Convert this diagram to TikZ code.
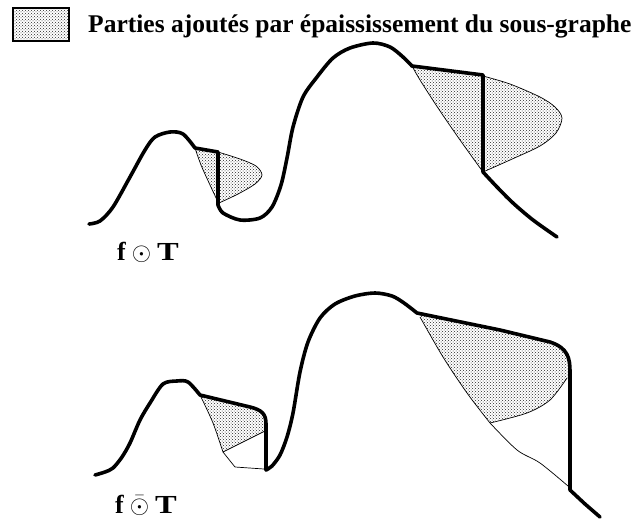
\documentclass[tikz,border=0pt]{standalone}
\usepackage{graphicx}
\usepackage{fontspec}
\setmainfont{Liberation Serif}
\usetikzlibrary{patterns}
\tikzset{
  thickc/.style={line width=3.6pt, line join=round, line cap=round},
  thinc/.style={line width=0.7pt, line join=round},
  shade/.style={pattern=crosshatch dots, pattern color=black!85},
  lbl/.style={inner sep=0pt, anchor=base west, font=\bfseries\fontsize{26}{26}\selectfont},
}
\newcommand{\mysym}[1]{{\fontsize{24}{24}\selectfont$#1$}}
\begin{document}
\begin{tikzpicture}[x=1pt,y=-1pt]
\useasboundingbox (0,0) rectangle (636,519);
% legend
\fill[shade] (13,8) rectangle (69,41);
\draw[line width=1.2pt] (13,8) rectangle (69,41);
\node[inner sep=0pt, anchor=base west, font=\bfseries\fontsize{25.5}{25.5}\selectfont] (title) at (88,33) {Parties ajoutés par épaississement du sous-graphe};

% ===== top figure =====
% small shaded part
\fill[shade] (195,148) -- (218,152) -- plot[smooth] coordinates {(218,152) (240,159) (256,166) (262,175) (255,184) (238,194) (219,203)}
  -- (217,200) -- plot[smooth] coordinates {(217,200) (210,185) (201,165) (195,148)} -- cycle;
\draw[thinc] plot[smooth] coordinates {(218,152) (240,159) (256,166) (262,175) (255,184) (238,194) (219,203)};
\draw[thinc] plot[smooth] coordinates {(217,200) (210,185) (201,165) (195,148)};
% large shaded part
\fill[shade] (412,66) -- (483,75) -- plot[smooth] coordinates {(483,76) (510,84) (540,97) (555,107) (562,118) (556,133) (540,146) (510,160) (483,172)}
  -- plot[smooth] coordinates {(483,172) (460,140) (438,108) (420,80) (412,66)} -- cycle;
\draw[thinc] plot[smooth] coordinates {(483,76) (510,84) (540,97) (555,107) (562,118) (556,133) (540,146) (510,160) (483,172)};
\draw[thinc] plot[smooth] coordinates {(483,172) (460,140) (438,108) (420,80) (412,66)};
% thick graph
\draw[thickc] plot[smooth] coordinates {(89,224) (100,221) (113,207) (130,177) (145,150) (155,137) (170,132) (183,134) (195,148)}
  -- (218,152) -- (218,205)
  -- plot[smooth] coordinates {(218,205) (223,213) (240,220) (260,218) (272,207) (281,185) (287,158) (293,127) (303,97) (317,77) (333,58) (350,48) (373,43) (390,47) (403,57) (412,66)}
  -- (483,75) -- (483,172)
  -- plot[smooth] coordinates {(483,172) (497,187) (513,203) (533,220) (557,237)};
\node[lbl] (l1) at (117,260) {f\hspace{6pt}\mysym{\odot}\hspace{6pt}\scalebox{1.25}[1]{T}};

% ===== bottom figure =====
% small shaded part
\fill[shade] (200,395) -- (250,407) .. controls (262,410) and (266,414) .. (266,424) -- (266,430)
  -- plot[smooth] coordinates {(265,431) (245,441) (223,452)}
  -- plot[smooth] coordinates {(223,452) (213,423) (201,397)} -- cycle;
\draw[thinc] plot[smooth] coordinates {(265,431) (245,441) (223,452)};
\draw[thinc] plot[smooth] coordinates {(223,452) (213,423) (201,397)};
\draw[thinc] (223,452) -- (235,467) -- (264,469);
% large shaded part
\fill[shade] (417,313) -- (500,330) -- (550,342) .. controls (568,348) and (570,358) .. (570,372) -- (569,378)
  -- plot[smooth] coordinates {(567,378) (550,400) (527,413) (490,423)}
  -- plot[smooth] coordinates {(490,423) (467,393) (443,357) (420,317)} -- cycle;
\draw[thinc] plot[smooth] coordinates {(567,378) (550,400) (527,413) (490,423)};
\draw[thinc] plot[smooth] coordinates {(490,423) (467,393) (443,357) (420,317)};
\draw[thinc] plot[smooth] coordinates {(490,423) (517,450) (540,463) (568,486)};
% thick graph
\draw[thickc] plot[smooth] coordinates {(95,475) (105,472) (113,468) (122,457) (130,443) (140,420) (150,403) (163,384) (177,381) (188,382) (200,395)}
  -- (250,407) .. controls (262,410) and (266,414) .. (266,424) -- (266,470)
  -- plot[smooth] coordinates {(266,470) (272,466) (280,455) (287,437) (293,413) (300,372) (308,342) (320,318) (335,304) (355,296) (375,293) (392,296) (404,303) (417,313)}
  -- (500,330) -- (550,342) .. controls (568,348) and (570,358) .. (570,372) -- (570,490)
  -- (585,504) -- (600,517);
\node[lbl] (l2) at (115,513) {f\hspace{6pt}\mysym{\bar{\odot}}\hspace{6pt}\scalebox{1.25}[1]{T}};
\end{tikzpicture}
\end{document}
